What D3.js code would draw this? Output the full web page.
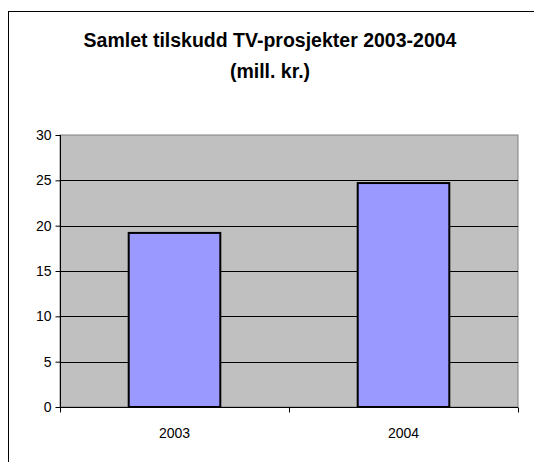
<!DOCTYPE html>
<html>
<head>
<meta charset="utf-8">
<script src="https://cdn.jsdelivr.net/npm/d3@7"></script>
<style>
  body { margin: 0; background: #fff; }
  text { font-family: "Liberation Sans", Arial, sans-serif; fill: #000; }
  .title { font-weight: bold; font-size: 19.5px; }
  .axis text { font-size: 14px; }
</style>
</head>
<body>
<div id="chart"></div>
<script>
// data
var years = ["2003", "2004"];
var tilskudd = [19.2, 24.7];
var yTicks = [0, 5, 10, 15, 20, 25, 30];
var titleLines = ["Samlet tilskudd TV-prosjekter 2003-2004", "(mill. kr.)"];

var width = 534;
var height = 462;
var plot = {left: 60, top: 135, right: 518, bottom: 407};

var svg = d3.select("#chart")
  .append("svg")
  .attr("width", width)
  .attr("height", height);

// outer frame
svg.append("rect")
  .attr("x", 8.5)
  .attr("y", 11.5)
  .attr("width", width)
  .attr("height", height)
  .attr("fill", "none")
  .attr("stroke", "#000")
  .attr("stroke-width", 1);

// title
svg.append("text")
  .attr("class", "title")
  .attr("text-anchor", "middle")
  .selectAll("tspan")
  .data(titleLines)
  .enter()
  .append("tspan")
  .attr("x", 270)
  .attr("y", function(d, i){ return 47 + i * 31; })
  .text(function(d){ return d; });

// scales
var x = d3.scaleBand()
  .domain(years)
  .range([plot.left, plot.right])
  .paddingInner(0.6)
  .paddingOuter(0.3);

var y = d3.scaleLinear()
  .domain([0, 30])
  .range([plot.bottom, plot.top]);

// plot background
svg.append("rect")
  .attr("x", plot.left)
  .attr("y", plot.top)
  .attr("width", plot.right - plot.left)
  .attr("height", plot.bottom - plot.top)
  .attr("fill", "#c0c0c0")
  .attr("stroke", "#808080")
  .attr("stroke-width", 1);

// gridlines
svg.selectAll(".grid")
  .data(yTicks.filter(function(d){ return d > 0 && d < 30; }))
  .enter()
  .append("line")
  .attr("class", "grid")
  .attr("x1", plot.left)
  .attr("x2", plot.right)
  .attr("y1", function(d){ return Math.round(y(d)) + 0.5; })
  .attr("y2", function(d){ return Math.round(y(d)) + 0.5; })
  .attr("stroke", "#000")
  .attr("stroke-width", 1);

// bars
svg.selectAll(".bar")
  .data(years)
  .enter()
  .append("rect")
  .attr("class", "bar")
  .attr("x", function(d){ return x(d); })
  .attr("y", function(d, i){ return y(tilskudd[i]); })
  .attr("width", x.bandwidth())
  .attr("height", function(d, i){ return y(0) - y(tilskudd[i]); })
  .attr("fill", "#9999ff")
  .attr("stroke", "#000")
  .attr("stroke-width", 2);

// y axis
var yAxis = d3.axisLeft(y)
  .tickValues(yTicks)
  .tickSize(5)
  .tickPadding(4)
  .tickFormat(d3.format("d"));

var yg = svg.append("g")
  .attr("class", "axis")
  .attr("transform", "translate(" + (plot.left + 0.5) + ",0)")
  .call(yAxis);
yg.select(".domain").attr("stroke", "#000").attr("d", "M0," + plot.top + "V" + (plot.bottom + 4));
yg.selectAll(".tick line").attr("stroke", "#000");

// x axis
var xEdges = d3.scalePoint()
  .domain(["a", "b", "c"])
  .range([plot.left, plot.right]);

var xg = svg.append("g")
  .attr("class", "axis")
  .attr("transform", "translate(0," + (plot.bottom + 0.5) + ")");

xg.append("line")
  .attr("x1", plot.left)
  .attr("x2", plot.right)
  .attr("stroke", "#000");

xg.selectAll(".xtick")
  .data(xEdges.domain())
  .enter()
  .append("line")
  .attr("class", "xtick")
  .attr("x1", function(d){ return Math.round(xEdges(d)) + 0.5; })
  .attr("x2", function(d){ return Math.round(xEdges(d)) + 0.5; })
  .attr("y1", 0)
  .attr("y2", 5)
  .attr("stroke", "#000");

xg.selectAll(".xlabel")
  .data(years)
  .enter()
  .append("text")
  .attr("class", "xlabel")
  .attr("x", function(d){ return x(d) + x.bandwidth() / 2; })
  .attr("y", 30)
  .attr("text-anchor", "middle")
  .text(function(d){ return d; });
</script>
</body>
</html>
